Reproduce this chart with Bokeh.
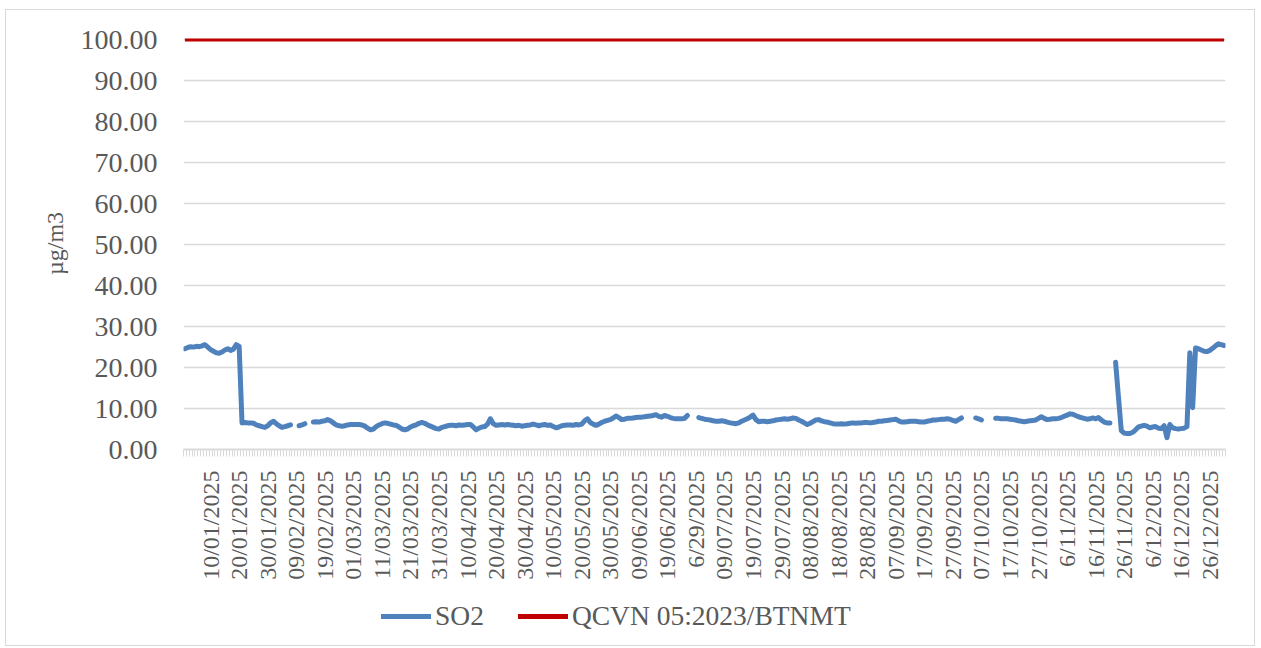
import math
import numpy as np
from bokeh.plotting import figure
from bokeh.layouts import column
from bokeh.models import (Range1d, FixedTicker, Legend, LegendItem,
                          PrintfTickFormatter)
from bokeh.embed import file_html
from bokeh.resources import INLINE

N = None  # missing day

# Daily SO2 values (µg/m3), 2025
so2_jan = [24.6, 24.9, 25.1, 25.0, 25.2, 25.1, 25.3, 25.6, 25.0, 24.4,
           24.0, 23.6, 23.5, 23.8, 24.3, 24.6, 24.2, 24.5, 25.6, 25.2,
           6.5, 6.6, 6.5, 6.5, 6.4, 6.0, 5.8, 5.6, 5.4, 5.8, 6.5]
so2_feb = [6.9, 6.3, 5.8, 5.4, 5.6, 5.8, 6.0, N, N, 5.8,
           6.0, 6.3, N, N, 6.7, 6.8, 6.7, 6.9, 7.0, 7.3,
           7.0, 6.5, 6.0, 5.8, 5.7, 5.8, 6.0, 6.1]
so2_mar = [6.1, 6.1, 6.1, 6.0, 5.7, 5.2, 4.8, 5.0, 5.6, 6.0,
           6.3, 6.5, 6.4, 6.2, 6.0, 5.9, 5.5, 5.0, 4.8, 5.0,
           5.5, 5.8, 6.0, 6.4, 6.6, 6.4, 6.0, 5.7, 5.4, 5.1, 5.0]
so2_apr = [5.4, 5.6, 5.8, 5.9, 5.9, 5.8, 6.0, 5.9, 6.0, 6.1,
           6.1, 5.5, 4.8, 5.2, 5.5, 5.6, 6.2, 7.5, 6.3, 5.9,
           6.0, 6.1, 6.0, 6.1, 6.0, 5.9, 5.8, 5.9, 5.7, 5.8]
so2_may = [5.9, 6.0, 6.2, 6.0, 5.8, 6.0, 6.1, 5.9, 6.0, 5.6,
           5.3, 5.5, 5.8, 5.9, 6.0, 6.0, 5.9, 6.1, 6.0, 6.2,
           7.0, 7.5, 6.6, 6.2, 5.9, 6.2, 6.6, 6.9, 7.1, 7.3, 7.7]
so2_jun = [8.2, 7.8, 7.3, 7.4, 7.6, 7.6, 7.7, 7.8, 7.9, 7.9,
           8.0, 8.1, 8.2, 8.3, 8.5, 8.1, 7.9, 8.3, 8.1, 7.8,
           7.6, 7.5, 7.5, 7.5, 7.6, 8.3, N, N, N, 7.8]
so2_jul = [7.6, 7.4, 7.3, 7.2, 7.0, 6.9, 6.9, 7.0, 6.9, 6.7,
           6.5, 6.4, 6.3, 6.5, 6.9, 7.2, 7.5, 7.9, 8.4, 7.3,
           6.8, 6.9, 6.9, 6.8, 6.9, 7.0, 7.2, 7.3, 7.4, 7.5, 7.4]
so2_aug = [7.5, 7.7, 7.6, 7.2, 6.9, 6.5, 6.1, 6.4, 6.8, 7.2,
           7.3, 7.0, 6.8, 6.7, 6.5, 6.3, 6.2, 6.2, 6.3, 6.2,
           6.3, 6.4, 6.5, 6.4, 6.5, 6.5, 6.6, 6.6, 6.5, 6.6, 6.7]
so2_sep = [6.9, 6.9, 7.0, 7.1, 7.2, 7.3, 7.4, 7.0, 6.7, 6.7,
           6.8, 6.9, 6.9, 6.9, 6.8, 6.7, 6.7, 6.9, 7.0, 7.2,
           7.2, 7.3, 7.4, 7.4, 7.5, 7.4, 7.1, 6.9, 7.3, 7.7]
so2_oct = [N, N, N, N, 7.7, 7.5, 7.2, N, N, N,
           N, 7.6, 7.6, 7.5, 7.5, 7.5, 7.4, 7.3, 7.2, 7.0,
           6.9, 6.8, 6.9, 7.0, 7.1, 7.2, 7.6, 8.0, 7.6, 7.3, 7.4]
so2_nov = [7.5, 7.5, 7.6, 7.8, 8.1, 8.4, 8.7, 8.6, 8.3, 8.0,
           7.8, 7.6, 7.4, 7.5, 7.7, 7.5, 7.8, 7.2, 6.7, 6.5,
           6.5, N, 21.3, 12.8, 4.6, 4.0, 3.9, 3.9, 4.2, 4.8]
so2_dec = [5.5, 5.7, 5.9, 5.7, 5.3, 5.5, 5.6, 5.2, 5.1, 5.8,
           2.9, 6.1, 5.3, 5.1, 5.0, 5.1, 5.2, 5.6, 23.6, 10.2,
           24.8, 24.6, 24.3, 24.0, 23.9, 24.2, 24.7, 25.3, 25.8, 25.6, 25.4]

qcvn_limit = 100.0

x_tick_labels = ["10/01/2025", "20/01/2025", "30/01/2025", "09/02/2025",
                 "19/02/2025", "01/03/2025", "11/03/2025", "21/03/2025",
                 "31/03/2025", "10/04/2025", "20/04/2025", "30/04/2025",
                 "10/05/2025", "20/05/2025", "30/05/2025", "09/06/2025",
                 "19/06/2025", "6/29/2025", "09/07/2025", "19/07/2025",
                 "29/07/2025", "08/08/2025", "18/08/2025", "28/08/2025",
                 "07/09/2025", "17/09/2025", "27/09/2025", "07/10/2025",
                 "17/10/2025", "27/10/2025", "6/11/2025", "16/11/2025",
                 "26/11/2025", "6/12/2025", "16/12/2025", "26/12/2025"]
label_every = 10
y_ticks = [0, 10, 20, 30, 40, 50, 60, 70, 80, 90, 100]
series_names = ["SO2", "QCVN 05:2023/BTNMT"]
series_colors = ["#4F81BD", "#C00000"]
y_title = "µg/m3"

so2 = (so2_jan + so2_feb + so2_mar + so2_apr + so2_may + so2_jun +
       so2_jul + so2_aug + so2_sep + so2_oct + so2_nov + so2_dec)
n_days = len(so2)
day_idx = np.arange(n_days)
so2_arr = np.array([np.nan if v is None else v for v in so2], dtype=float)
qcvn_arr = np.full(n_days, qcvn_limit)

label_pos = [label_every - 1 + label_every * k for k in range(len(x_tick_labels))]
boundaries = [i - 0.5 for i in range(n_days + 1)]

FONT = "Liberation Serif"
GRAY = "#595959"
LIGHT = "#d9d9d9"
FIG_W = 1248

p = figure(width=FIG_W, height=579, output_backend="svg", toolbar_location=None,
           x_range=Range1d(-0.5, n_days - 0.5), y_range=Range1d(0, 100.6),
           min_border_left=177, min_border_right=29, min_border_top=27,
           min_border_bottom=140, outline_line_color=None,
           background_fill_color="white", border_fill_color="white")

p.line(day_idx, so2_arr, line_color=series_colors[0], line_width=5,
       line_cap="round", line_join="round")
p.line(day_idx, qcvn_arr, line_color=series_colors[1], line_width=3)

# x axis
xa = p.xaxis[0]
xa.ticker = FixedTicker(ticks=label_pos, minor_ticks=boundaries)
xa.major_label_overrides = {pos: lab for pos, lab in zip(label_pos, x_tick_labels)}
xa.major_label_orientation = math.pi / 2
xa.major_label_text_font = FONT
xa.major_label_text_font_size = "24px"
xa.major_label_text_color = GRAY
xa.major_tick_line_color = None
xa.major_tick_out = 0
xa.major_tick_in = 0
xa.minor_tick_line_color = LIGHT
xa.minor_tick_out = 7
xa.minor_tick_in = 0
xa.axis_line_color = LIGHT
xa.axis_line_width = 2
xa.major_label_standoff = 14

# y axis
ya = p.yaxis[0]
ya.ticker = FixedTicker(ticks=y_ticks)
ya.formatter = PrintfTickFormatter(format="%.2f")
ya.major_label_text_font = FONT
ya.major_label_text_font_size = "28px"
ya.major_label_text_color = GRAY
ya.axis_line_color = None
ya.major_tick_line_color = None
ya.minor_tick_line_color = None
ya.major_tick_out = 0
ya.major_label_standoff = 26
ya.axis_label = y_title
ya.axis_label_text_font = FONT
ya.axis_label_text_font_size = "24px"
ya.axis_label_text_font_style = "normal"
ya.axis_label_text_color = GRAY
ya.axis_label_standoff = 10

p.xgrid.visible = False
p.ygrid.ticker = FixedTicker(ticks=y_ticks)
p.ygrid.grid_line_color = LIGHT
p.ygrid.grid_line_width = 1.5

# legend strip (separate figure so the legend is not clipped by the plot frame)
lg = figure(width=FIG_W, height=56, output_backend="svg", toolbar_location=None,
            x_range=Range1d(0, 1), y_range=Range1d(0, 1),
            min_border_left=0, min_border_right=0, min_border_top=0,
            min_border_bottom=0, outline_line_color=None,
            background_fill_color="white", border_fill_color="white")
lg.xaxis.visible = False
lg.yaxis.visible = False
lg.xgrid.visible = False
lg.ygrid.visible = False
# legend-key renderers kept outside the visible range of the strip
lr1 = lg.line(x=[5, 6], y=[5, 6], line_color=series_colors[0], line_width=5,
              line_cap="round")
lr2 = lg.line(x=[5, 6], y=[5, 6], line_color=series_colors[1], line_width=5,
              line_cap="round")
legend = Legend(items=[LegendItem(label=series_names[0], renderers=[lr1]),
                       LegendItem(label=series_names[1], renderers=[lr2])],
                orientation="horizontal", location=(198, 13),
                label_text_font=FONT, label_text_font_size="27.5px",
                label_text_color=GRAY, glyph_width=50, glyph_height=20,
                label_standoff=4, spacing=34, padding=0, margin=0,
                border_line_color=None, background_fill_alpha=0)
lg.add_layout(legend, "center")

layout = column(p, lg, spacing=0)
layout.styles = {"border": "1px solid #d9d9d9", "margin": "9px 0px 0px 5px"}

open("out.html", "w").write(file_html(layout, INLINE))
